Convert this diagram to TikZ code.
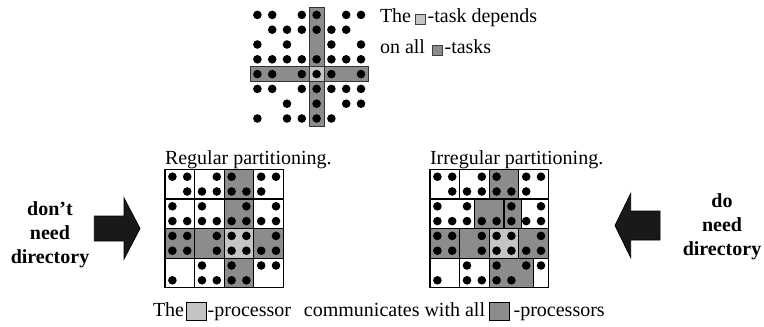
\documentclass[tikz,border=0pt]{standalone}
\usepackage{fontspec}
\setmainfont{Liberation Serif}
\definecolor{cellDark}{gray}{0.55}
\definecolor{cellLight}{gray}{0.77}
\definecolor{arrowFill}{gray}{0.1}
\setlength{\fboxsep}{0pt}
\setlength{\fboxrule}{0.8pt}
% small legend square used inside the task sentence
\newcommand{\tasksq}[1]{\raisebox{-1pt}{\fcolorbox{black!75}{#1}{\rule{0pt}{9pt}\rule{9.5pt}{0pt}}}}
% larger legend square used inside the processor sentence
\newcommand{\procsq}[1]{\raisebox{-3.5pt}{\fcolorbox{black}{#1}{\rule{0pt}{17.5pt}\rule{19pt}{0pt}}}}
% the 8x8 dot pattern, column/row in dot units
\newcommand{\dotpattern}{1/1,2/1,4/1,5/1,7/1,8/1,
  2/2,3/2,4/2,5/2,6/2,7/2,
  1/3,3/3,6/3,8/3,
  1/4,2/4,3/4,4/4,5/4,6/4,7/4,8/4,
  1/5,2/5,4/5,5/5,6/5,8/5,
  1/6,2/6,4/6,5/6,6/6,7/6,8/6,
  3/7,5/7,7/7,8/7,
  1/8,3/8,4/8,5/8,6/8}
\newcommand{\dotfield}[2]{%
  \foreach \c/\r in \dotpattern {%
    \fill ({#1+(\c-0.5)*14.8},{#2+(\r-0.5)*14.8}) circle[radius=4.3pt];
  }}
\tikzset{
  txt/.style={inner sep=0pt, outer sep=0pt, font=\fontsize{20}{24}\selectfont},
  boldtxt/.style={txt, font=\fontsize{20}{24}\selectfont\bfseries},
  cell/.style={draw=black, line width=1.2pt},
  bar/.style={draw=black!80, line width=0.8pt, fill=cellDark},
  blockarrow/.style={fill=arrowFill, draw=black, line width=0.8pt, line join=miter},
}
\begin{document}
\begin{tikzpicture}[x=1pt,y=-1pt]
\useasboundingbox (0,0) rectangle (764,327);

% ---- task dependency stencil ----
\def\ox{250}\def\oy{7.5}\def\u{14.8}
\draw[bar] (\ox,{\oy+4*\u}) rectangle ({\ox+8*\u},{\oy+5*\u});
\draw[bar] ({\ox+4*\u},\oy) rectangle ({\ox+5*\u},{\oy+8*\u});
\draw[bar, fill=cellLight] ({\ox+4*\u},{\oy+4*\u}) rectangle ({\ox+5*\u},{\oy+5*\u});
\dotfield{\ox}{\oy}

\node[txt, anchor=base west] (dep1) at (380,22.5)
  {The\hspace{4pt}\tasksq{cellLight}\hspace{1.5pt}-task depends};
\node[txt, anchor=base west] (dep2) at (380,53.5)
  {on all\hspace{7pt}\tasksq{cellDark}\hspace{1.5pt}-tasks};

% ---- regular partitioning ----
\def\rx{165}\def\ry{169.3}
\foreach \i/\j/\col in {1/1/white,2/1/white,3/1/cellDark,4/1/white,
                        1/2/white,2/2/white,3/2/cellDark,4/2/white,
                        1/3/cellDark,2/3/cellDark,3/3/cellLight,4/3/cellDark,
                        1/4/white,2/4/white,3/4/cellDark,4/4/white}
  \draw[cell, fill=\col] ({\rx+(\i-1)*2*\u},{\ry+(\j-1)*2*\u}) rectangle ({\rx+\i*2*\u},{\ry+\j*2*\u});
\dotfield{\rx}{\ry}
\node[txt, anchor=base west] (reglab) at (165,164) {Regular partitioning.};

% ---- irregular partitioning ----
\def\ix{430}\def\iy{169.3}
\foreach \a/\b/\c/\d/\col in {0/0/2/2/white,2/0/4/2/white,4/0/6/2/cellDark,6/0/8/2/white,
    0/2/3/4/white,3/2/5/4/cellDark,5/2/6.2/4/cellDark,6.2/2/8/4/white,
    0/4/2/6/cellDark,2/4/4/6/cellDark,4/4/6/6/cellLight,6/4/8/6/cellDark,
    0/6/2/8/white,2/6/4/8/white,4/6/7/8/cellDark,7/6/8/8/white}
  \draw[cell, fill=\col] ({\ix+\a*\u},{\iy+\b*\u}) rectangle ({\ix+\c*\u},{\iy+\d*\u});
\dotfield{\ix}{\iy}
\node[txt, anchor=base west] (irrlab) at (430,164) {Irregular partitioning.};

% ---- legend sentence ----
\node[txt, anchor=base west] (legend) at (153,316.7)
  {The\hspace{2pt}\procsq{cellLight}\hspace{1pt}-processor\hspace{13pt}communicates with all\hspace{4pt}\procsq{cellDark}\hspace{4pt}-processors};

% ---- block arrows ----
\draw[blockarrow] (94.3,216) -- (124,216) -- (124,198) -- (140,228.5) -- (124,259)
  -- (124,241) -- (94.3,241) -- cycle;
\draw[blockarrow] (660,211) -- (630.7,211) -- (630.7,193.5) -- (615,225.5) -- (630.7,257.5)
  -- (630.7,240) -- (660,240) -- cycle;

% ---- directory labels ----
\node[boldtxt, anchor=base] (l1) at (50,215) {don’t};
\node[boldtxt, anchor=base] (l2) at (50,239) {need};
\node[boldtxt, anchor=base] (l3) at (50,263) {directory};
\node[boldtxt, anchor=base] (r1) at (722,207) {do};
\node[boldtxt, anchor=base] (r2) at (722,231) {need};
\node[boldtxt, anchor=base] (r3) at (722,255) {directory};
\end{tikzpicture}
\end{document}
